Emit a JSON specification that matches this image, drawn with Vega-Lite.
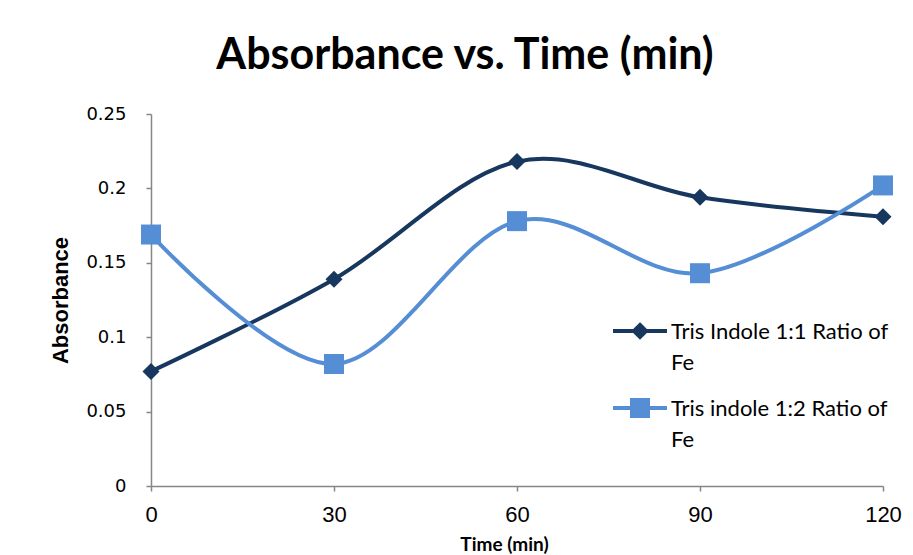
{
  "$schema": "https://vega.github.io/schema/vega-lite/v6.json",
  "autosize": {"type": "none"},
  "padding": {"left": 151, "top": 114, "right": 30, "bottom": 69},
  "width": 732,
  "height": 372,
  "background": "white",
  "title": {
    "text": "Absorbance vs. Time (min)",
    "font": "Lato",
    "fontWeight": "bold",
    "fontSize": 43,
    "color": "#000000",
    "anchor": "middle",
    "baseline": "alphabetic",
    "dx": -52,
    "offset": -7
  },
  "config": {
    "view": {"stroke": null},
    "axis": {"grid": false, "domainColor": "#868686", "tickColor": "#868686", "domainWidth": 1.5, "tickWidth": 1.5}
  },
  "data": {
    "values": [
      {"time": 0, "absorbance": 0.077, "series": "Tris Indole 1:1 Ratio of Fe"},
      {"time": 30, "absorbance": 0.139, "series": "Tris Indole 1:1 Ratio of Fe"},
      {"time": 60, "absorbance": 0.218, "series": "Tris Indole 1:1 Ratio of Fe"},
      {"time": 90, "absorbance": 0.194, "series": "Tris Indole 1:1 Ratio of Fe"},
      {"time": 120, "absorbance": 0.181, "series": "Tris Indole 1:1 Ratio of Fe"},
      {"time": 0, "absorbance": 0.169, "series": "Tris indole 1:2 Ratio of Fe"},
      {"time": 30, "absorbance": 0.082, "series": "Tris indole 1:2 Ratio of Fe"},
      {"time": 60, "absorbance": 0.178, "series": "Tris indole 1:2 Ratio of Fe"},
      {"time": 90, "absorbance": 0.143, "series": "Tris indole 1:2 Ratio of Fe"},
      {"time": 120, "absorbance": 0.202, "series": "Tris indole 1:2 Ratio of Fe"}
    ]
  },
  "encoding": {
    "x": {
      "field": "time", "type": "quantitative",
      "scale": {"domain": [0, 120], "nice": false, "zero": false},
      "axis": {
        "values": [0, 30, 60, 90, 120],
        "title": "Time (min)",
        "titleFont": "Lato", "titleFontWeight": "bold", "titleFontSize": 19,
        "titleBaseline": "alphabetic", "titleX": 353, "titleY": 64, "titleColor": "#000000",
        "labelFont": "Liberation Sans", "labelFontSize": 22, "labelColor": "#000000",
        "labelPadding": 13, "tickSize": 5, "labelFlush": false
      }
    },
    "y": {
      "field": "absorbance", "type": "quantitative",
      "scale": {"domain": [0, 0.25], "nice": false},
      "axis": {
        "values": [0, 0.05, 0.1, 0.15, 0.2, 0.25],
        "format": ".2~f",
        "title": "Absorbance",
        "titleFont": "Liberation Sans", "titleFontWeight": "bold", "titleFontSize": 22,
        "titleBaseline": "middle", "titleX": -91, "titleY": 186, "titleAngle": -90, "titleColor": "#000000",
        "labelFont": "DejaVu Sans", "labelFontSize": 18, "labelColor": "#000000",
        "labelPadding": 20, "tickSize": 5
      }
    },
    "color": {
      "field": "series", "type": "nominal",
      "scale": {"domain": ["Tris Indole 1:1 Ratio of Fe", "Tris indole 1:2 Ratio of Fe"], "range": ["#17375E", "#558ED5"]},
      "legend": {
        "orient": "none",
        "legendX": 460,
        "legendY": 188,
        "title": null,
        "symbolType": "M-1,0L1,0",
        "symbolSize": 2916,
        "symbolStrokeWidth": 4,
        "labelFont": "Lato",
        "labelFontSize": 22,
        "labelColor": "#000000",
        "labelLimit": 400,
        "labelOffset": 2,
        "labelBaseline": "alphabetic",
        "rowPadding": 5,
        "labelExpr": "datum.label == 'Tris Indole 1:1 Ratio of Fe' ? ['Tris Indole 1:1 Ratio of', 'Fe'] : ['Tris indole 1:2 Ratio of', 'Fe']",
        "encode": {
          "labels": {"update": {"lineHeight": {"value": 31}, "dy": {"value": 8}}},
          "symbols": {
            "update": {
              "shape": {"signal": "datum.value == 'Tris Indole 1:1 Ratio of Fe' ? 'M-1,0L1,0M0,-0.222L0.222,0L0,0.222L-0.222,0Z' : 'M-1,0L1,0M-0.296,-0.296L0.296,-0.296L0.296,0.296L-0.296,0.296Z'"},
              "size": {"value": 2916},
              "fill": {"signal": "datum.value == 'Tris Indole 1:1 Ratio of Fe' ? '#17375E' : '#558ED5'"},
              "stroke": {"signal": "datum.value == 'Tris Indole 1:1 Ratio of Fe' ? '#17375E' : '#558ED5'"},
              "strokeWidth": {"value": 4},
              "opacity": {"value": 1},
              "fillOpacity": {"value": 1},
              "strokeOpacity": {"value": 1}
            }
          }
        }
      }
    }
  },
  "layer": [
    {
      "mark": {"type": "line", "interpolate": "cardinal", "strokeWidth": 4}
    },
    {
      "transform": [{"filter": "datum.series == 'Tris Indole 1:1 Ratio of Fe'"}],
      "mark": {"type": "point", "filled": true, "opacity": 1, "shape": "diamond", "size": 289}
    },
    {
      "transform": [{"filter": "datum.series == 'Tris indole 1:2 Ratio of Fe'"}],
      "mark": {"type": "point", "filled": true, "opacity": 1, "shape": "square", "size": 400}
    }
  ]
}
